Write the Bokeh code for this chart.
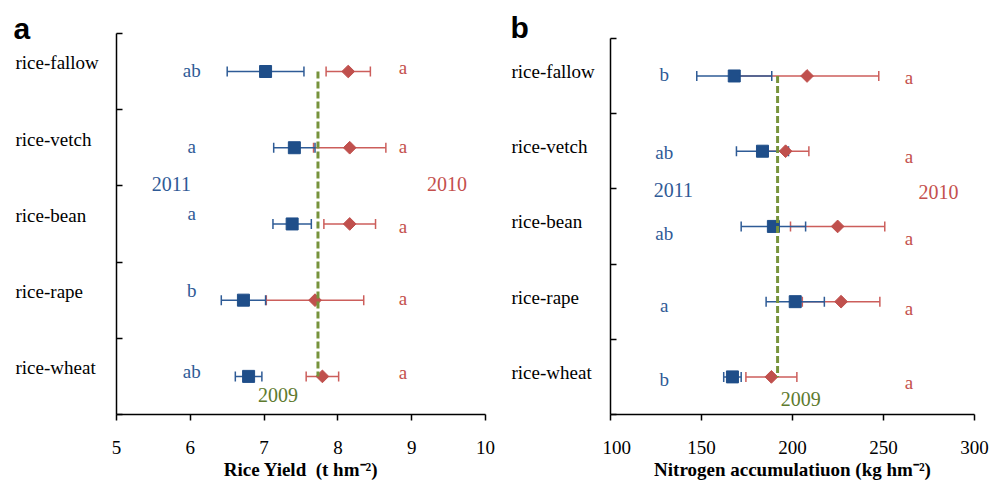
import numpy as np
from bokeh.plotting import figure
from bokeh.models import Range1d, FixedTicker, ColumnDataSource, Whisker, TeeHead
from bokeh.layouts import row
from bokeh.embed import file_html
from bokeh.resources import INLINE
from bokeh.core.properties import value

# ---------------- data ----------------
categories = ["rice-fallow", "rice-vetch", "rice-bean", "rice-rape", "rice-wheat"]

# panel a: rice yield (t hm-2)
yield_2011 = [7.02, 7.41, 7.38, 6.72, 6.79]
yield_2011_err = [0.52, 0.28, 0.26, 0.30, 0.18]
yield_2010 = [8.14, 8.16, 8.16, 7.69, 7.79]
yield_2010_err = [0.30, 0.49, 0.35, 0.66, 0.22]
yield_2009 = 7.73
yield_sig_2011 = ["ab", "a", "a", "b", "ab"]
yield_sig_2010 = ["a", "a", "a", "a", "a"]
yield_ticks = [5, 6, 7, 8, 9, 10]

# panel b: nitrogen accumulation (kg hm-2)
n_2011 = [168.0, 183.5, 189.5, 201.5, 167.0]
n_2011_err = [20.6, 14.3, 17.7, 16.0, 4.8]
n_2010 = [208.0, 196.2, 224.8, 226.7, 188.4]
n_2010_err = [39.4, 12.8, 25.9, 21.3, 14.0]
n_2009 = 191.8
n_sig_2011 = ["b", "ab", "ab", "a", "b"]
n_sig_2010 = ["a", "a", "a", "a", "a"]
n_ticks = [100, 150, 200, 250, 300]

# ---------------- style ----------------
BLUE = "#1F4E89"
BLUE_LINE = "#2E5B96"
BLUE_TXT = "#2F5A96"
RED = "#C0504D"
RED_LINE = "#CC5E5B"
RED_TXT = "#C4504D"
GREEN = "#77933C"
GREEN_TXT = "#5E7A2E"
SERIF = "Liberation Serif"
SANS = "Liberation Sans"
H = 482
TOP = 12          # common frame top (all plots in a row share it)
BOTTOM = 66       # common bottom border (x axis at H - BOTTOM)
FIX = 0.32        # baseline correction, fraction of font size


def fix(offsets, size):
    return [o - FIX * size for o in offsets]


def y_range_for(top_px):
    """y range so that category boundary 5 sits at top_px and 0 at the x axis."""
    n = len(categories)
    band = (H - BOTTOM - top_px) / n
    return Range1d(0, n + (top_px - TOP) / band)


def label_column(width, yr, panel_letter, lay):
    n = len(categories)
    yc = [n - i - 0.5 for i in range(n)]
    p = figure(width=width, height=H, output_backend="svg", toolbar_location=None,
               x_range=Range1d(0, width), y_range=yr, title=None,
               x_axis_type=None, y_axis_type=None,
               min_border_left=0, min_border_right=0, min_border_top=TOP,
               min_border_bottom=BOTTOM)
    p.outline_line_color = None
    p.grid.visible = False
    src = ColumnDataSource(dict(x=[lay["cat_x"]] * n, y=yc, t=categories,
                                off=fix([lay["cat_off"]] * n, 19)))
    p.text("x", "y", text="t", source=src, y_offset="off",
           text_font=value(SERIF), text_font_size="19px", text_color="black",
           text_align="left", text_baseline="alphabetic")
    p.text(x=[lay["pl_x"]], y=[n], text=[panel_letter],
           y_offset=fix([lay["pl_off"]], 30)[0],
           text_font=value(SANS), text_font_style="bold", text_font_size="30px",
           text_color="black", text_align="left", text_baseline="alphabetic")
    return p


def make_panel(width, borders, xr, yr, ticks, xlabel,
               v2011, e2011, v2010, e2010, v2009, sig2011, sig2010, layout):
    n = len(categories)
    yc = [n - i - 0.5 for i in range(n)]
    p = figure(width=width, height=H, output_backend="svg", toolbar_location=None,
               x_range=Range1d(*xr), y_range=yr, title=None,
               min_border_left=borders[0], min_border_right=borders[1],
               min_border_top=TOP, min_border_bottom=BOTTOM)
    p.outline_line_color = None
    p.grid.visible = False

    # x axis
    p.xaxis.ticker = FixedTicker(ticks=ticks)
    p.xaxis.major_tick_in = 0
    p.xaxis.major_tick_out = 6
    p.xaxis.minor_tick_line_color = None
    p.xaxis.axis_line_width = 1.5
    p.xaxis.major_tick_line_width = 1.5
    p.xaxis.axis_line_color = "black"
    p.xaxis.major_tick_line_color = "black"
    p.xaxis.major_label_text_font = SERIF
    p.xaxis.major_label_text_font_size = "19px"
    p.xaxis.major_label_text_color = "black"
    p.xaxis.major_label_standoff = layout["tick_standoff"]
    p.xaxis.axis_label = xlabel
    p.xaxis.axis_label_text_font = SERIF
    p.xaxis.axis_label_text_font_style = "bold"
    p.xaxis.axis_label_text_font_size = "19px"
    p.xaxis.axis_label_text_color = "black"
    p.xaxis.axis_label_standoff = layout["label_standoff"]

    # y axis: ticks at category boundaries, no labels, line limited to 0..n
    p.yaxis.ticker = FixedTicker(ticks=list(range(n + 1)))
    p.yaxis.bounds = (0, n)
    p.yaxis.major_tick_in = 6
    p.yaxis.major_tick_out = 0
    p.yaxis.minor_tick_line_color = None
    p.yaxis.axis_line_width = 1.5
    p.yaxis.major_tick_line_width = 1.5
    p.yaxis.axis_line_color = "black"
    p.yaxis.major_tick_line_color = "black"
    p.yaxis.major_label_standoff = 0
    p.yaxis.major_label_overrides = {i: "" for i in range(n + 1)}

    # error bars (2010 drawn below 2011)
    src10 = ColumnDataSource(dict(y=yc, x=v2010,
                                  lo=[v - e for v, e in zip(v2010, e2010)],
                                  hi=[v + e for v, e in zip(v2010, e2010)]))
    src11 = ColumnDataSource(dict(y=yc, x=v2011,
                                  lo=[v - e for v, e in zip(v2011, e2011)],
                                  hi=[v + e for v, e in zip(v2011, e2011)]))
    for src, col in ((src10, RED_LINE), (src11, BLUE_LINE)):
        w = Whisker(source=src, base="y", lower="lo", upper="hi", dimension="width",
                    line_color=col, line_width=1.5,
                    lower_head=TeeHead(size=10, line_color=col, line_width=1.5),
                    upper_head=TeeHead(size=10, line_color=col, line_width=1.5))
        p.add_layout(w)

    p.scatter("x", "y", source=src10, marker="square", angle=np.pi / 4, size=9,
              fill_color=RED, line_color=RED)
    p.scatter("x", "y", source=src11, marker="square", size=12,
              fill_color=BLUE, line_color=BLUE)

    # 2009 reference line
    p.line([v2009] * n, yc, line_color=GREEN, line_width=3, line_dash="7 3")

    # significance letters
    s11 = ColumnDataSource(dict(x=[layout["x_sig11"]] * n, y=yc, t=sig2011,
                                off=fix(layout["off11"], 19)))
    s10 = ColumnDataSource(dict(x=[layout["x_sig10"]] * n, y=yc, t=sig2010,
                                off=fix(layout["off10"], 19)))
    for s, col in ((s11, BLUE_TXT), (s10, RED_TXT)):
        p.text("x", "y", text="t", source=s, y_offset="off",
               text_font=value(SERIF), text_font_size="19px", text_color=col,
               text_align="center", text_baseline="alphabetic")

    # year labels (2011 / 2010 between 2nd and 3rd rows, 2009 under the line)
    yrs = ColumnDataSource(dict(x=[layout["x_2011"], layout["x_2010"], layout["x_2009"]],
                                y=[yc[0] - 1.5, yc[0] - 1.5, yc[-1]],
                                t=["2011", "2010", "2009"],
                                off=fix(layout["off_years"], 20),
                                c=[BLUE_TXT, RED_TXT, GREEN_TXT]))
    p.text("x", "y", text="t", source=yrs, y_offset="off", text_color="c",
           text_font=value(SERIF), text_font_size="20px",
           text_align="center", text_baseline="alphabetic")
    return p


layout_a = dict(tick_standoff=20, label_standoff=2,
                x_sig11=6.02, x_sig10=8.88,
                off11=[5, 5, -4, -4, 1], off10=[2, 5, 9, 4.5, 2],
                x_2011=5.745, x_2010=9.48, x_2009=7.19,
                off_years=[5, 5, 25])
layout_b = dict(tick_standoff=20, label_standoff=2,
                x_sig11=129.5, x_sig10=264.0,
                off11=[4.5, 7.3, 13, 9.8, 8.2], off10=[7.8, 11.7, 18, 12.5, 11.2],
                x_2011=134.5, x_2010=280.2, x_2009=204.6,
                off_years=[7.7, 9.3, 28.8])
lab_a = dict(cat_x=15, cat_off=-2.5, pl_x=13, pl_off=5)
lab_b = dict(cat_x=14, cat_off=1.5, pl_x=13, pl_off=-1)

# panel a: screen 0..497, frame x 116..485, category block 33..416
yr_a = y_range_for(33)
la = label_column(108, yr_a, "a", lab_a)
pa = make_panel(389, (8, 12), (5, 10), yr_a, yield_ticks,
                "Rice Yield\u00a0 (t hm\u207b\u00b2)",
                yield_2011, yield_2011_err, yield_2010, yield_2010_err, yield_2009,
                yield_sig_2011, yield_sig_2010, layout_a)
# panel b: screen 497..992, frame x 610..974, category block 38..416
yr_b = y_range_for(38)
lb = label_column(105, yr_b, "b", lab_b)
pb = make_panel(390, (8, 18), (100, 300), yr_b, n_ticks,
                "Nitrogen accumulatiuon (kg hm\u207b\u00b2)",
                n_2011, n_2011_err, n_2010, n_2010_err, n_2009,
                n_sig_2011, n_sig_2010, layout_b)

layout = row(la, pa, lb, pb)
open("out.html", "w").write(file_html(layout, INLINE))
